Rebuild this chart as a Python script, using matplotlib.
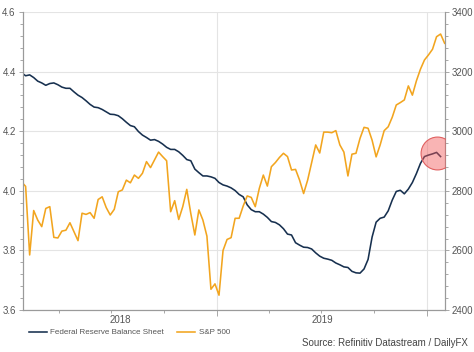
import matplotlib

matplotlib.use("Agg")
import matplotlib.dates as mdates
import matplotlib.pyplot as plt
import numpy as np
import pandas as pd
from matplotlib.lines import Line2D
from matplotlib.ticker import MultipleLocator

plt.rcParams["font.family"] = ["Liberation Sans", "DejaVu Sans"]

# weekly observations, late Jan 2018 -> end Jan 2020
dates = pd.date_range("2018-01-26", periods=106, freq="7D")

# Fed balance sheet, USD trillions (last week not yet published)
fed_balance = [
    4.396, 4.386, 4.389, 4.380, 4.368, 4.362, 4.354, 4.360, 4.362, 4.356,
    4.348, 4.344, 4.344, 4.332, 4.321, 4.313, 4.302, 4.290, 4.281, 4.279,
    4.273, 4.265, 4.257, 4.256, 4.252, 4.242, 4.230, 4.219, 4.215, 4.199,
    4.187, 4.179, 4.170, 4.172, 4.166, 4.157, 4.146, 4.139, 4.139, 4.131,
    4.119, 4.105, 4.101, 4.073, 4.061, 4.050, 4.050, 4.047, 4.042, 4.028,
    4.020, 4.016, 4.010, 4.001, 3.988, 3.980, 3.953, 3.937, 3.930, 3.930,
    3.922, 3.911, 3.897, 3.894, 3.886, 3.873, 3.855, 3.852, 3.826, 3.818,
    3.811, 3.810, 3.805, 3.792, 3.781, 3.774, 3.771, 3.767, 3.758, 3.752,
    3.745, 3.743, 3.730, 3.725, 3.724, 3.738, 3.770, 3.845, 3.895, 3.908,
    3.912, 3.933, 3.969, 3.998, 4.002, 3.990, 4.006, 4.028, 4.058, 4.092,
    4.115, 4.120, 4.124, 4.129, 4.115, np.nan,
]

spx = [
    2830, 2815, 2585, 2734, 2702, 2680, 2741, 2747, 2644, 2642,
    2665, 2668, 2693, 2663, 2633, 2725, 2721, 2727, 2708, 2771,
    2780, 2744, 2719, 2738, 2797, 2803, 2836, 2827, 2853, 2842,
    2859, 2898, 2878, 2904, 2930, 2915, 2901, 2730, 2767, 2704,
    2747, 2805, 2724, 2652, 2736, 2702, 2648, 2470, 2488, 2450,
    2600, 2637, 2643, 2708, 2708, 2749, 2783, 2778, 2747, 2808,
    2853, 2816, 2881, 2895, 2912, 2926, 2915, 2870, 2872, 2836,
    2791, 2836, 2895, 2954, 2927, 2997, 2997, 2995, 3002, 2954,
    2930, 2850, 2923, 2926, 2976, 3013, 3010, 2970, 2914, 2954,
    3002, 3015, 3047, 3088, 3096, 3105, 3152, 3121, 3169, 3208,
    3239, 3256, 3275, 3317, 3326, 3295,
]

# recent uptick that the chart circles
highlight_date = "2020-01-17"
highlight_value = 4.126

FED_COLOR = "#17304f"
SPX_COLOR = "#f2a51f"
GRID = "#e4e4e4"
SPINE = "#9a9a9a"
TEXT = "#555555"
LW = 1.15

fig = plt.figure(figsize=(4.74, 3.52), dpi=100)
ax = fig.add_axes([0.048, 0.119, 0.890, 0.847])
ax2 = ax.twinx()

ax.plot(dates, fed_balance, color=FED_COLOR, linewidth=LW)
ax2.plot(dates, spx, color=SPX_COLOR, linewidth=LW)
ax2.scatter(
    [pd.Timestamp(highlight_date)],
    [2400 + (highlight_value - 3.6) * 1000],
    s=560, facecolor=(0.95, 0.35, 0.35, 0.45), edgecolor="#e06060",
    linewidth=0.8, zorder=5,
)

x_lo, x_hi = pd.Timestamp("2018-01-28"), pd.Timestamp("2020-01-31")
ax.set_xlim(x_lo, x_hi)
ax.set_ylim(3.6, 4.6)
ax2.set_ylim(2400, 3400)

ax.yaxis.set_major_locator(MultipleLocator(0.2))
ax.yaxis.set_minor_locator(MultipleLocator(0.04))
ax.yaxis.set_major_formatter(matplotlib.ticker.FormatStrFormatter("%.1f"))
ax2.yaxis.set_major_locator(MultipleLocator(200))
ax2.yaxis.set_minor_locator(MultipleLocator(40))

ax.xaxis.set_major_locator(mdates.YearLocator())
ax.xaxis.set_minor_locator(mdates.MonthLocator(bymonth=[1, 4, 7, 10]))
ax.xaxis.set_major_formatter(matplotlib.ticker.NullFormatter())

ax.grid(True, which="major", color=GRID, linewidth=0.8)
ax.set_axisbelow(True)

for a in (ax, ax2):
    a.spines["top"].set_visible(False)
    for side in ("left", "right", "bottom"):
        a.spines[side].set_color(SPINE)
        a.spines[side].set_linewidth(0.8)
    a.tick_params(which="both", colors=SPINE, labelcolor=TEXT, labelsize=7, width=0.6)
    a.tick_params(which="major", length=3, pad=2)
    a.tick_params(which="minor", length=2)
ax.tick_params(axis="x", which="major", length=4)

# year labels centred on the visible part of each year
y2019, y2020 = pd.Timestamp("2019-01-01"), pd.Timestamp("2020-01-01")
for label, start, end in (("2018", x_lo, y2019), ("2019", y2019, y2020)):
    mid = start + (end - start) / 2
    ax.text(mid, -0.018, label, transform=ax.get_xaxis_transform(),
            ha="center", va="top", fontsize=7, color=TEXT)

handles = [
    Line2D([], [], color=FED_COLOR, linewidth=LW),
    Line2D([], [], color=SPX_COLOR, linewidth=LW),
]
fig.legend(
    handles, ["Federal Reserve Balance Sheet", "S&P 500"],
    loc="center left", bbox_to_anchor=(0.045, 0.055), ncol=2, frameon=False,
    fontsize=5.8, handlelength=2.3, handletextpad=0.4, columnspacing=1.6,
    labelcolor=TEXT,
)
fig.text(0.988, 0.012, "Source: Refinitiv Datastream / DailyFX",
         ha="right", va="bottom", fontsize=7, color="#444444")

fig.savefig("out.png", dpi=100)
